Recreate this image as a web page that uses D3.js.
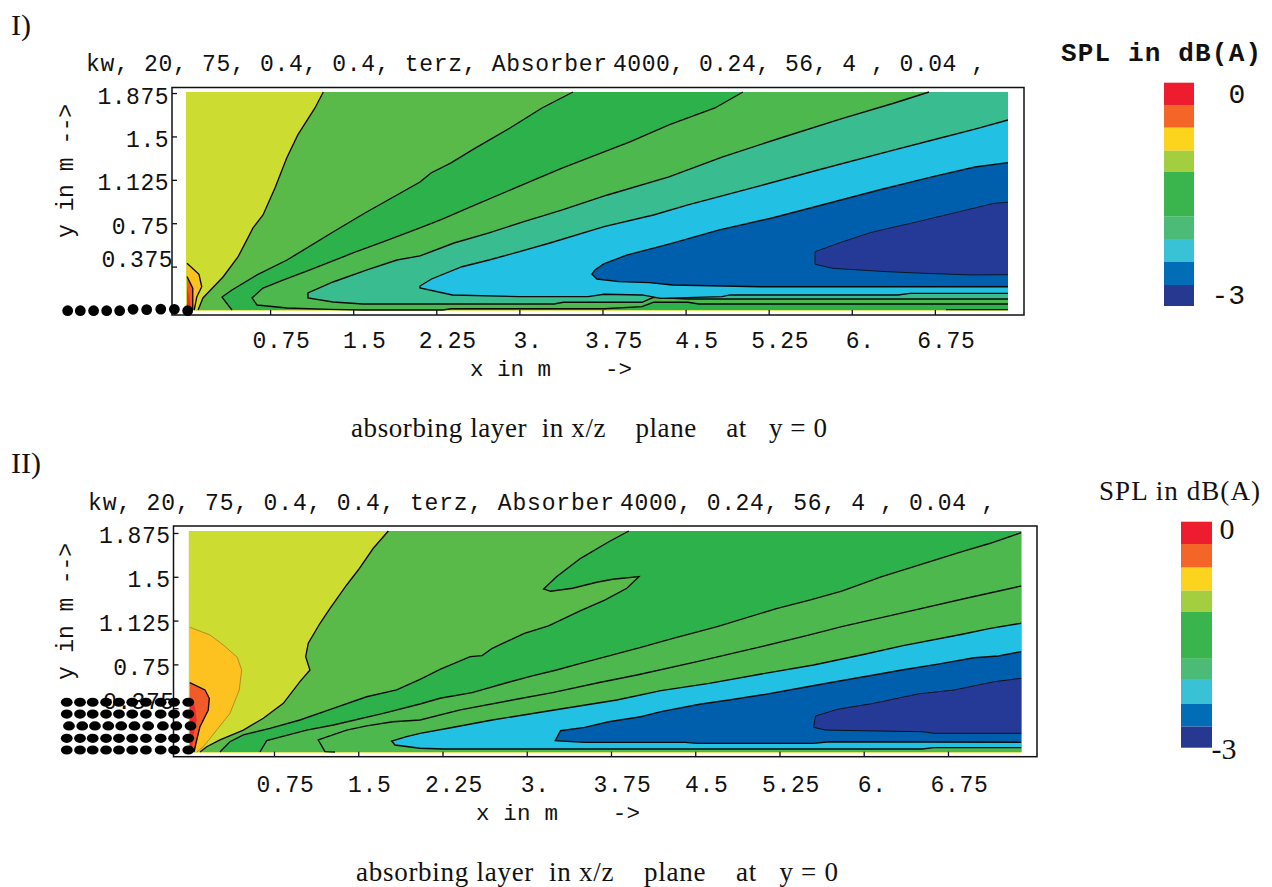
<!DOCTYPE html>
<html><head><meta charset="utf-8">
<script src="https://cdn.jsdelivr.net/npm/d3@7"></script>
<style>html,body{margin:0;padding:0;background:#fff}svg{display:block}text{white-space:pre;fill:#111}</style>
</head><body><svg id="c" width="1272" height="887"></svg>
<script>
// ---------- shared labels ----------
const xTicks=[0.75,1.5,2.25,3,3.75,4.5,5.25,6,6.75];
const xTickLabels=["0.75","1.5","2.25","3.","3.75","4.5","5.25","6.","6.75"];
const yTicks=[1.875,1.5,1.125,0.75,0.375];
const yTickLabels=["1.875","1.5","1.125","0.75","0.375"];
const titleLeft="kw, 20, 75, 0.4, 0.4, terz, Absorber";
const titleRight="4000, 0.24, 56, 4 , 0.04 ,";
const caption="absorbing layer  in x/z    plane    at   y = 0";
const xName="x in m    ->";
const yName="y in m -->";
const legendName="SPL in dB(A)";
const legendColors=["#ED1C2E","#F46528","#FCD41E","#A3CE3F","#3AB54D","#4CBB78","#39C2D6","#006DB6","#26388F"];
const C={lime:"#CDDC30",g1:"#59BA4A",g2:"#2DB24B",g3:"#4DB84E",teal:"#38BC90",cyan:"#22C0E2",blue:"#005FAD",navy:"#253A96",amber:"#FDC120",orange:"#F15A29",red:"#EE2B2B"};
// dB boundaries of the legend bands
const legendBreaksI=[0,-0.30,-0.605,-0.914,-1.196,-1.80,-2.10,-2.405,-2.718,-3];
const legendBreaksII=[0,-0.296,-0.61,-0.916,-1.195,-1.82,-2.10,-2.42,-2.72,-3];

// ---------- panel I : contour lines in metres [x,y] ----------
const xMaxI=7.41,yMaxI=1.884;
const i_L1=[[1.23,1.884],[1.155,1.746],[1.00,1.513],[0.90,1.314],[0.794,1.054],[0.686,0.821],[0.596,0.709],[0.46,0.458],[0.325,0.285],[0.144,0.104],[0.10,0]];
const i_L2=[[3.484,1.884],[3.204,1.746],[2.915,1.573],[2.59,1.392],[2.383,1.271],[2.202,1.184],[2.103,1.106],[1.895,0.994],[1.606,0.838],[1.318,0.674],[0.903,0.432],[0.632,0.303],[0.406,0.173],[0.316,0.112],[0.406,0]];
const i_L3=[[5.018,1.884],[4.765,1.746],[4.35,1.599],[3.998,1.452],[3.764,1.366],[3.385,1.227],[3.069,1.098],[2.554,0.89],[2.31,0.787],[2.103,0.709],[1.769,0.588],[1.498,0.493],[1.11,0.346],[0.866,0.259],[0.686,0.19],[0.587,0.104],[0.632,0.043],[0.903,0.017],[1.29,0.006],[1.588,0],[2.31,0],[2.383,0.011],[3.764,0.011],[4.107,0.029],[4.21,0.067],[4.522,0.067],[4.62,0.052],[7.41,0.052]];
const i_L4=[[6.697,1.884],[6.385,1.789],[5.903,1.651],[5.385,1.495],[4.829,1.322],[4.35,1.15],[3.795,0.994],[3.381,0.864],[3.033,0.761],[2.726,0.666],[2.41,0.579],[2.103,0.467],[1.895,0.432],[1.625,0.346],[1.318,0.242],[1.092,0.147],[1.092,0.104],[1.318,0.069],[1.588,0.052],[3.312,0.052],[3.398,0.067],[4.107,0.067],[4.21,0.11],[4.522,0.095],[7.41,0.095]];
const i_L5=[[7.41,1.642],[7.112,1.564],[6.765,1.478],[6.385,1.383],[5.695,1.21],[5.144,1.066],[4.522,0.908],[4.21,0.821],[3.764,0.72],[3.276,0.579],[3.001,0.504],[2.726,0.432],[2.482,0.374],[2.207,0.268],[2.103,0.207],[2.103,0.19],[2.396,0.13],[3.0,0.115],[3.62,0.115],[3.764,0.136],[4.107,0.13],[4.278,0.101],[4.829,0.115],[4.9,0.13],[6.417,0.13],[6.525,0.144],[7.41,0.144]];
const i_L6=[[7.41,1.273],[7.112,1.236],[6.733,1.152],[6.245,1.037],[5.764,0.916],[5.28,0.795],[4.797,0.691],[4.35,0.57],[3.968,0.475],[3.761,0.398],[3.682,0.346],[3.655,0.309],[3.70,0.268],[3.899,0.245],[4.175,0.236],[4.383,0.216],[5.177,0.201],[7.41,0.201]];
const i_L7=[[7.41,0.931],[7.284,0.922],[6.593,0.763],[6.179,0.672],[5.903,0.585],[5.668,0.504],[5.668,0.395],[5.83,0.36],[6.318,0.331],[6.661,0.317],[7.076,0.303],[7.41,0.305]];
const i_amber=[[0,0.404],[0.108,0.309],[0.133,0.201],[0.089,0.115],[0.065,0]];
const i_orange=[[0,0.289],[0.052,0.188],[0.052,0]];
const i_red=[[0,0.2],[0.02,0.12],[0.035,0]];
const i_floor=[[6.85,0.003],[7.41,0.003]];
const i_dotX=[-1.077,-0.963,-0.843,-0.725,-0.608,-0.487,-0.364,-0.237,-0.114,0.006];
const i_dotY=[-0.006,-0.006,-0.006,-0.006,-0.006,0.006,0.003,0.008,0.006,-0.006];

// ---------- panel II : contour lines in metres [x,y] ----------
const xMaxII=7.402,yMaxII=1.892;
const ii_amber=[[0,1.068],[0.18,1.002],[0.299,0.916],[0.423,0.811],[0.462,0.702],[0.441,0.531],[0.358,0.331],[0.24,0.188],[0.121,0.045],[0.062,0]];
const ii_orange=[[0,0.593],[0.136,0.531],[0.174,0.46],[0.165,0.36],[0.091,0.217],[0.062,0.103],[0.038,0]];
const ii_red=[[0,0.473],[0.047,0.388],[0.062,0.274],[0.032,0.131],[0.015,0]];
const ii_L1=[[1.768,1.892],[1.634,1.744],[1.50,1.558],[1.397,1.43],[1.249,1.23],[1.16,1.102],[1.055,0.931],[1.032,0.816],[1.07,0.702],[0.981,0.602],[0.833,0.417],[0.655,0.289],[0.477,0.188],[0.269,0.103],[0.151,0.045],[0.091,0]];
const ii_L2=[[3.909,1.892],[3.731,1.80],[3.48,1.658],[3.265,1.501],[3.151,1.396],[3.212,1.376],[3.408,1.402],[3.623,1.453],[3.766,1.479],[3.999,1.501],[3.891,1.402],[3.694,1.301],[3.48,1.21],[3.194,1.079],[2.979,1.016],[2.693,0.888],[2.603,0.825],[2.497,0.816],[2.228,0.708],[2.05,0.622],[1.842,0.531],[1.575,0.473],[1.278,0.374],[0.981,0.274],[0.714,0.203],[0.477,0.146],[0.358,0.088],[0.269,0]];
const ii_L3=[[7.402,1.878],[7.127,1.787],[6.875,1.715],[6.59,1.629],[6.161,1.501],[5.804,1.378],[5.518,1.301],[5.231,1.23],[4.696,1.073],[4.302,0.973],[4.016,0.896],[3.48,0.759],[3.265,0.702],[3.05,0.651],[2.837,0.597],[2.514,0.508],[2.228,0.46],[2.05,0.411],[1.723,0.331],[1.278,0.231],[1.041,0.188],[0.685,0.097],[0.625,0]];
const ii_L4=[[7.402,1.421],[6.912,1.316],[6.304,1.182],[5.804,1.073],[5.518,1.002],[5.089,0.902],[4.517,0.773],[3.981,0.659],[3.658,0.597],[3.229,0.508],[2.872,0.445],[2.408,0.36],[2.05,0.274],[1.809,0.259],[1.575,0.223],[1.397,0.188],[1.144,0.103],[1.204,0.003],[1.293,0]];
const ii_L5=[[7.402,1.102],[7.127,1.059],[6.877,1.008],[6.34,0.908],[6.018,0.839],[5.554,0.745],[5.089,0.668],[4.624,0.588],[4.195,0.525],[3.802,0.445],[3.301,0.368],[2.693,0.274],[2.30,0.203],[2.05,0.16],[1.931,0.131],[1.798,0.094],[1.827,0.06],[2.05,0.032],[2.263,0.026],[6.519,0.026],[6.626,0.037],[7.402,0.037]];
const ii_L6=[[7.402,0.859],[7.198,0.822],[6.983,0.807],[6.662,0.753],[6.34,0.702],[6.09,0.659],[5.696,0.593],[5.339,0.531],[5.125,0.494],[4.802,0.445],[4.552,0.411],[4.195,0.345],[4.016,0.302],[3.731,0.259],[3.516,0.211],[3.301,0.182],[3.254,0.097],[3.516,0.083],[4.41,0.083],[4.517,0.074],[5.554,0.074],[5.696,0.088],[7.402,0.083]];
const ii_L7=[[7.402,0.631],[7.162,0.602],[6.805,0.531],[6.483,0.497],[6.09,0.417],[5.768,0.366],[5.571,0.308],[5.554,0.211],[5.661,0.188],[5.983,0.182],[6.519,0.174],[6.626,0.16],[7.402,0.16]];
const ii_dotX=[-1.095,-0.977,-0.864,-0.745,-0.63,-0.512,-0.39,-0.259,-0.14,-0.013];
const ii_dotRows=[0.426,0.325,0.223,0.117,0.017];
const ii_rowShift=[0,0,0.02,0,0];

// ---------- drawing ----------
const svg=d3.select("#c");
const MONO="'Liberation Mono',monospace",SERIF="'Liberation Serif',serif";

function put(g,s,x,y,o={}){
  const t=g.append("text").attr("x",x).attr("y",y).text(s)
    .attr("font-family",o.f||MONO).attr("font-size",o.s||23)
    .attr("text-anchor",o.a||"start").attr("font-weight",o.w||"normal");
  if(o.len)t.attr("textLength",o.len).attr("lengthAdjust","spacing");
  if(o.rot)t.attr("transform",`rotate(${o.rot} ${x} ${y})`);
  return t;
}

function panel(p){
  const g=svg.append("g");
  const x=d3.scaleLinear().domain([0,p.xMax]).range(p.xRange);
  const y=d3.scaleLinear().domain([0,p.yMax]).range(p.yRange);
  const line=d3.line().x(d=>x(d[0])).y(d=>y(d[1])).curve(d3.curveLinear);
  const [L,T,R,B]=p.frame;
  g.append("rect").attr("x",x(0)-1).attr("y",y(p.yMax)).attr("width",x(p.xMax)-x(0)+1).attr("height",y(0)-y(p.yMax)+.7).attr("fill",C.lime);
  p.layers.forEach(l=>{
    g.append("path").attr("d",line(l.pts.concat(l.close||[]))+"Z").attr("fill",l.fill);
    g.append("path").attr("d",line(l.pts)).attr("fill","none").attr("stroke",l.stroke||"#0a0a0a").attr("stroke-width",l.sw||1.35);
  });
  (p.lines||[]).forEach(l=>g.append("path").attr("d",line(l)).attr("fill","none").attr("stroke","#111").attr("stroke-width",1.3));
  // axes
  const ax=d3.axisBottom(x).tickValues(xTicks).tickSize(-5).tickFormat((d,i)=>xTickLabels[i]);
  const xg=g.append("g").attr("transform",`translate(0,${B})`).call(ax);
  const ay=d3.axisLeft(y).tickValues(yTicks).tickSize(-5).tickFormat((d,i)=>yTickLabels[i]);
  const yg=g.append("g").attr("transform",`translate(${L},0)`).call(ay);
  [xg,yg].forEach(a=>{a.select(".domain").remove();a.selectAll(".tick line").attr("stroke","#111").attr("stroke-width",1.3);
    a.selectAll("text").attr("font-family",MONO).attr("font-size",23).attr("fill","#222");});
  xg.selectAll("text").attr("y",p.xLabelDy).attr("dy",0).attr("dx",d=>(d===3||d===6)?8:11).attr("letter-spacing",0.7).attr("text-anchor","middle");
  yg.selectAll("text").attr("x",-3).attr("dy",d=>d===0.375?0:10).attr("letter-spacing",0.5).attr("text-anchor","end");
  yg.selectAll(".tick").filter(d=>d===0.375).select("text").attr("x",1);
  g.append("rect").attr("x",L).attr("y",T).attr("width",R-L).attr("height",B-T).attr("fill","none").attr("stroke","#111").attr("stroke-width",1.5);
  p.dots(g,x,y);
  // texts
  put(g,p.tag,p.tagX,p.tagY,{f:SERIF,s:30});
  put(g,titleLeft,p.title[0],p.title[2],{len:p.title[1]-p.title[0]});
  put(g,titleRight,p.title[3],p.title[2],{len:p.title[4]-p.title[3]});
  put(g,xName,p.xName[0],p.xName[2],{s:22.5,len:p.xName[1]-p.xName[0]});
  put(g,yName,p.yName[0],p.yName[2],{rot:-90,len:p.yName[2]-p.yName[1]});
  put(g,caption,p.cap[0],p.cap[2],{f:SERIF,s:27,len:p.cap[1]-p.cap[0]});
  // legend
  const ly=d3.scaleLinear().domain([0,-3]).range(p.legY);
  g.selectAll(null).data(legendColors).join("rect").attr("x",p.legX[0]).attr("width",p.legX[1]-p.legX[0])
    .attr("y",(d,i)=>ly(p.breaks[i])).attr("height",(d,i)=>ly(p.breaks[i+1])-ly(p.breaks[i])).attr("fill",d=>d);
  p.legendText(g,ly);
}

panel({xMax:xMaxI,yMax:yMaxI,xRange:[187,1008],yRange:[310,92],frame:[172,87.5,1024,315],xLabelDy:33,
  layers:[
   {pts:i_L1,close:[[xMaxI,0],[xMaxI,yMaxI]],fill:C.g1},
   {pts:i_L2,close:[[xMaxI,0],[xMaxI,yMaxI]],fill:C.g2},
   {pts:i_L3,close:[[xMaxI,yMaxI]],fill:C.g3},
   {pts:i_L4,close:[[xMaxI,yMaxI]],fill:C.teal},
   {pts:i_L5,fill:C.cyan},{pts:i_L6,fill:C.blue},{pts:i_L7,fill:C.navy,sw:.8},
   {pts:i_amber,close:[[0,0]],fill:C.amber},{pts:i_orange,close:[[0,0]],fill:C.orange},{pts:i_red,close:[[0,0]],fill:C.red,stroke:"none"}],
  lines:[i_floor],
  dots:(g,x,y)=>g.selectAll(null).data(i_dotX).join("circle").attr("cx",d=>x(d)).attr("cy",(d,i)=>y(i_dotY[i])).attr("r",5.4).attr("fill","#000"),
  tag:"I)",tagX:11,tagY:35,title:[86,607,71,613,985],xName:[470,632,376],yName:[73,104,238],cap:[351,827,437],
  breaks:legendBreaksI,legX:[1164,1194],legY:[82.7,306],
  legendText:(g,ly)=>{put(g,legendName,1061,61,{w:"bold",s:26,len:200});
    put(g,"0",1237,ly(0)+20,{s:28,a:"middle"});put(g,"-3",1245,ly(-3)-2,{s:28,a:"end"});}
});

panel({xMax:xMaxII,yMax:yMaxII,xRange:[189.75,1021.2],yRange:[752,531],frame:[173.5,526,1037,756.7],xLabelDy:35,
  layers:[
   {pts:ii_L1,close:[[xMaxII,0],[xMaxII,yMaxII]],fill:C.g1},
   {pts:ii_L2,close:[[xMaxII,0],[xMaxII,yMaxII]],fill:C.g2},
   {pts:ii_L3,close:[[xMaxII,0]],fill:C.g3},
   {pts:ii_L4,close:[[xMaxII,0]],fill:C.g3},
   {pts:ii_L5,fill:C.cyan},{pts:ii_L6,fill:C.blue},{pts:ii_L7,fill:C.navy,sw:.9},
   {pts:ii_amber,close:[[0,0]],fill:C.amber,stroke:"#7a6a20",sw:.6},{pts:ii_orange,close:[[0,0]],fill:C.orange},{pts:ii_red,close:[[0,0]],fill:C.red,stroke:"none"}],
  dots:(g,x,y)=>{ii_dotRows.forEach((r,k)=>g.selectAll(null).data(ii_dotX).join("ellipse").attr("cx",d=>x(d+ii_rowShift[k])).attr("cy",y(r)).attr("rx",5.9).attr("ry",4.6).attr("fill","#000"));},
  tag:"II)",tagX:11,tagY:473,title:[88,614,510,620,995],xName:[476,640,820],yName:[73,543,680],cap:[356,838,881],
  breaks:legendBreaksII,legX:[1181,1212],legY:[521.7,747.7],
  legendText:(g,ly)=>{put(g,legendName,1099,500,{f:SERIF,s:27,len:161});
    put(g,"0",1227,ly(0)+17,{f:SERIF,s:30,a:"middle"});put(g,"-3",1224,ly(-3)+11,{f:SERIF,s:30,a:"middle"});}
});
</script></body></html>
